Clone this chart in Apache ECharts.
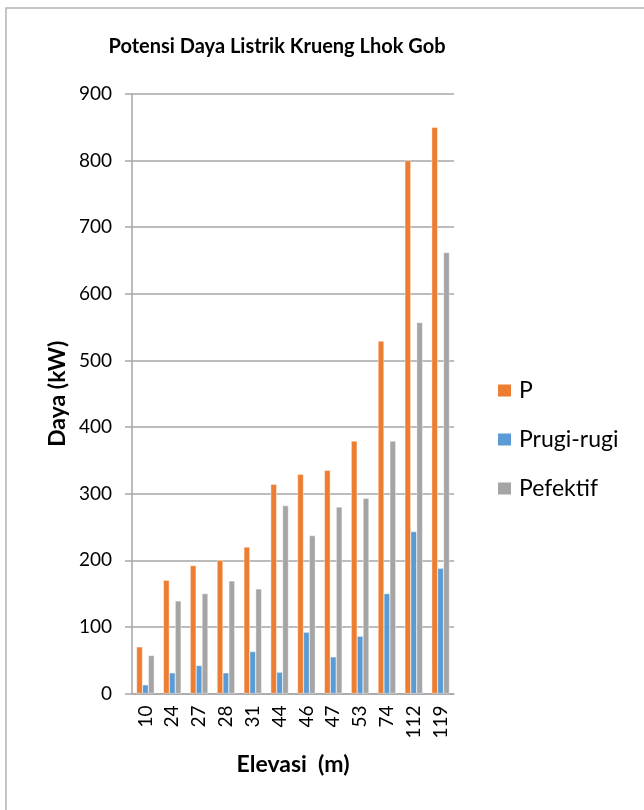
<!DOCTYPE html>
<html>
<head>
<meta charset="utf-8">
<style>
  html, body { margin: 0; padding: 0; background: #fff; }
  #chart { width: 644px; height: 810px; }
</style>
<script src="https://cdn.jsdelivr.net/npm/echarts@6/dist/echarts.min.js"></script>
</head>
<body>
<div id="chart"></div>
<script>
// Elevation categories (m)
const elevations = ['10', '24', '27', '28', '31', '44', '46', '47', '53', '74', '112', '119'];
// Gross power P (kW)
const pTotal = [70, 170, 192, 200, 220, 314, 329, 335, 379, 529, 800, 850];
// Losses (kW)
const pLosses = [13, 31, 42, 31, 63, 32, 92, 55, 86, 150, 243, 188];
// Effective power (kW)
const pEffective = [57, 139, 150, 169, 157, 282, 237, 280, 293, 379, 557, 662];

const FONT = 'Lato, "Open Sans", sans-serif';
const GRID_COLOR = '#a6a6a6';

const chart = echarts.init(document.getElementById('chart'), null, { renderer: 'canvas' });

const barSeries = (name, data, color) => ({
  name: name,
  type: 'bar',
  data: data,
  barGap: '0%',
  barCategoryGap: '34%',
  itemStyle: { color: color, borderColor: '#ffffff', borderWidth: 0.4 },
  emphasis: { disabled: true }
});

chart.setOption({
  animation: false,
  backgroundColor: '#ffffff',
  graphic: [{
    type: 'rect',
    shape: { x: 6, y: 8, width: 700, height: 900 },
    style: { fill: 'none', stroke: '#b3b3b3', lineWidth: 1.5 },
    silent: true
  }],
  title: {
    text: 'Potensi Daya Listrik Krueng Lhok Gob',
    left: 272,
    top: 32,
    textAlign: 'center',
    textStyle: { fontFamily: FONT, fontWeight: 'bold', fontSize: 20, color: '#000' }
  },
  legend: {
    orient: 'vertical',
    left: 496,
    top: 379,
    padding: 0,
    itemWidth: 15,
    itemHeight: 14,
    itemGap: 26,
    icon: 'rect',
    textStyle: { fontFamily: FONT, fontSize: 23, lineHeight: 23, color: '#000', padding: [0, 0, 0, 2] },
    data: ['P', 'Prugi-rugi', 'Pefektif']
  },
  grid: { left: 132, right: 190, top: 94, bottom: 116.5, containLabel: false },
  xAxis: {
    type: 'category',
    data: elevations,
    name: 'Elevasi  (m)',
    nameLocation: 'middle',
    nameGap: 60,
    nameTextStyle: { fontFamily: FONT, fontWeight: 'bold', fontSize: 23, color: '#000' },
    axisLine: { show: true, lineStyle: { color: GRID_COLOR, width: 1.5 } },
    axisTick: { show: false },
    axisLabel: { rotate: 90, margin: 12, fontFamily: FONT, fontSize: 19, color: '#000' }
  },
  yAxis: {
    type: 'value',
    min: 0,
    max: 900,
    interval: 100,
    name: 'Daya (kW)',
    nameLocation: 'middle',
    nameGap: 63,
    nameRotate: 90,
    nameTextStyle: { fontFamily: FONT, fontWeight: 'bold', fontSize: 23, color: '#000' },
    axisLine: { show: true, lineStyle: { color: GRID_COLOR, width: 1.5 } },
    axisTick: { show: true, inside: false, length: 7, lineStyle: { color: GRID_COLOR, width: 1.5 } },
    splitLine: { show: true, lineStyle: { color: GRID_COLOR, width: 1.5 } },
    axisLabel: { margin: 20, fontFamily: FONT, fontSize: 19, color: '#000' }
  },
  series: [
    barSeries('P', pTotal, '#ED7D31'),
    barSeries('Prugi-rugi', pLosses, '#5B9BD5'),
    barSeries('Pefektif', pEffective, '#A5A5A5')
  ]
});
</script>
</body>
</html>
